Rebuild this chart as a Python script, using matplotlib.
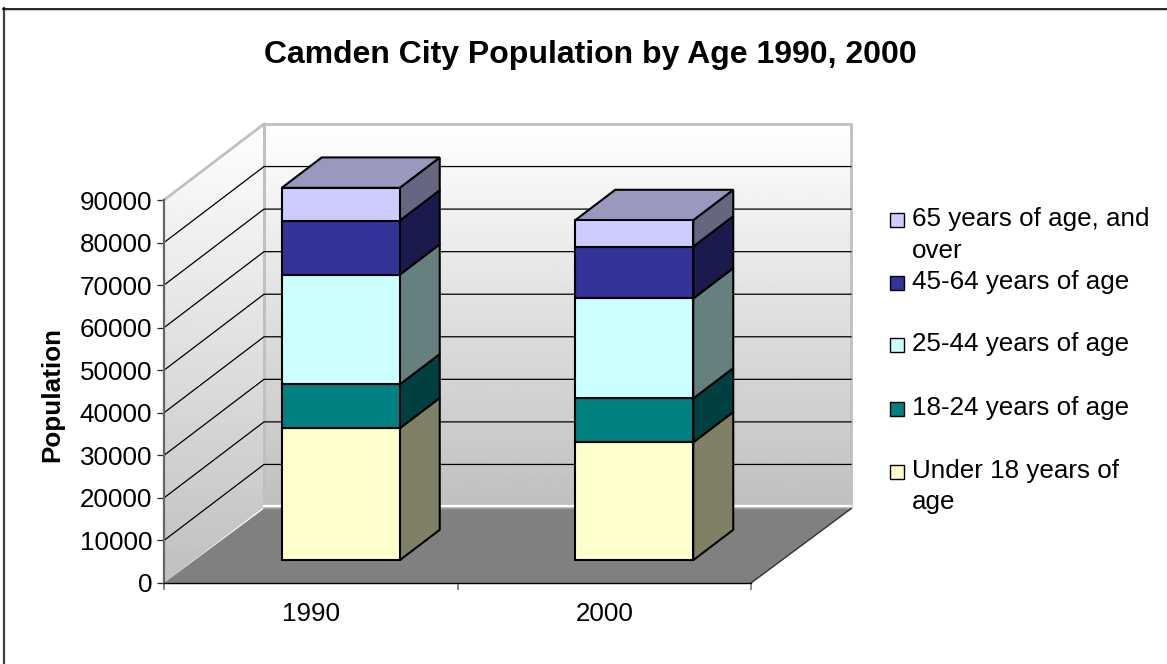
import numpy as np
import matplotlib
matplotlib.use('Agg')
import matplotlib.pyplot as plt
from matplotlib.patches import Polygon, Rectangle

years = ['1990', '2000']
series = ['Under 18 years of age', '18-24 years of age', '25-44 years of age',
          '45-64 years of age', '65 years of age, and over']
under18 = [31000, 27700]
age18_24 = [10300, 10300]
age25_44 = [25800, 23500]
age45_64 = [12700, 12200]
age65 = [7700, 6200]
colors = ['#FFFFCC', '#008080', '#CCFFFF', '#333399', '#CCCCFF']
side_colors = ['#808066', '#004040', '#668080', '#1A1A4D', '#666680']
top_color = '#9999BF'
yticks = list(range(0, 90001, 10000))

W, H = 1167, 664
DX = 100 / 293.5   # depth of the 3d box, x units
DY = 17860         # depth of the 3d box, value units
BAR_W = 0.402
D0, D1 = 0.3, 0.7

plt.rcParams['font.family'] = ['Liberation Sans', 'DejaVu Sans']
fig = plt.figure(figsize=(W / 100, H / 100), dpi=100, facecolor='white')

# page overlay in pixels, for frame and legend
bg = fig.add_axes([0, 0, 1, 1], zorder=0)
bg.set_xlim(0, W)
bg.set_ylim(H, 0)
bg.axis('off')
# only the top and left edges of the chart border are in the picture
bg.plot([4, 4], [8, H], color='#404040', lw=1.6)
bg.plot([3, W], [8.5, 8.5], color='black', lw=1.2)
bg.plot([5, W], [9.8, 9.8], color='#C8C8C8', lw=0.7)

ax = fig.add_axes([164 / W, 1 - 583 / H, 587 / W, 383 / H], zorder=1)
ax.patch.set_visible(False)
ax.set_xlim(0, 2)
ax.set_ylim(0, 90000)


def pr(x, v, d=0):
    return (x + d * DX, v + d * DY)


grad = np.linspace(1, 0.75, 256).reshape(-1, 1)
vtop = 90000 + DY
back = Polygon([pr(0, 0, 1), pr(2, 0, 1), pr(2, 90000, 1), pr(0, 90000, 1)],
               fc='none', ec='#C0C0C0', lw=2, clip_on=False, zorder=2.5)
side = Polygon([pr(0, 0), pr(0, 0, 1), pr(0, 90000, 1), pr(0, 90000)],
               fc='none', ec='none', clip_on=False, zorder=2)
ax.add_patch(back)
ax.add_patch(side)
im1 = ax.imshow(grad, cmap='gray', vmin=0, vmax=1, aspect='auto', zorder=1,
                extent=(DX, 2 + DX, DY, vtop))
im1.set_clip_box(fig.bbox)
im1.set_clip_path(back)
im2 = ax.imshow(grad, cmap='gray', vmin=0, vmax=1, aspect='auto', zorder=1,
                extent=(0, DX, 0, vtop))
im2.set_clip_box(fig.bbox)
im2.set_clip_path(side)
ax.set_xlim(0, 2)
ax.set_ylim(0, 90000)
ax.plot([0, DX], [90000, 90000 + DY], color='#C0C0C0', lw=2, clip_on=False, zorder=2.5)
ax.plot([DX, DX], [DY, vtop], color='#C0C0C0', lw=2, clip_on=False, zorder=2.5)

# gridlines on side and back wall
for v in yticks[1:-1]:
    gx = [0, DX, 2 + DX]
    gy = [v, v + DY, v + DY]
    ax.plot(gx, gy, color='black', lw=0.9, clip_on=False, zorder=3)

# floor
ax.add_patch(Polygon([pr(0, 0), pr(2, 0), pr(2, -400, 1), pr(0, -400, 1)], fc='#808080',
                     ec='none', clip_on=False, zorder=4))
ax.plot([DX, 2 + DX], [DY + 250, DY + 250], color='white', lw=1.6, clip_on=False, zorder=3.5)
ax.plot([DX, 2 + DX], [DY - 300, DY - 300], color='#A0A0A0', lw=1, clip_on=False, zorder=4.5)
ax.plot([2, 2 + DX], [0, DY - 400], color='#303030', lw=1, clip_on=False, zorder=4.5)

# stacked 3d bars
stack = [under18, age18_24, age25_44, age45_64, age65]
for i in range(len(years)):
    left = i + 0.5 - BAR_W / 2
    right = left + BAR_W
    base = 0
    for j, vals in enumerate(stack):
        topv = base + vals[i]
        front = [pr(left, base, D0), pr(right, base, D0), pr(right, topv, D0), pr(left, topv, D0)]
        sidef = [pr(right, base, D0), pr(right, base, D1), pr(right, topv, D1), pr(right, topv, D0)]
        ax.add_patch(Polygon(sidef, fc=side_colors[j], ec='black', lw=1.5,
                             joinstyle='miter', clip_on=False, zorder=5))
        ax.add_patch(Polygon(front, fc=colors[j], ec='black', lw=1.5,
                             joinstyle='miter', clip_on=False, zorder=6))
        base = topv
    cap = [pr(left, base, D0), pr(right, base, D0), pr(right, base, D1), pr(left, base, D1)]
    ax.add_patch(Polygon(cap, fc=top_color, ec='black', lw=1.5,
                         joinstyle='miter', clip_on=False, zorder=5))

# axes
for s in ['top', 'right']:
    ax.spines[s].set_visible(False)
ax.spines['left'].set_color('#666666')
ax.spines['left'].set_linewidth(1.6)
ax.spines['bottom'].set_color('black')
ax.spines['bottom'].set_linewidth(1)
ax.spines['left'].set_zorder(8)
ax.spines['bottom'].set_zorder(8)
ax.set_yticks(yticks)
ax.set_yticklabels([str(v) for v in yticks], fontsize=18.7, color='black')
ax.tick_params(axis='y', length=5, width=0.9, color='#222222', pad=3.5)
ax.set_xticks([0, 1, 2])
ax.set_xticklabels([])
ax.set_xticks([0.5, 1.5], minor=True)
ax.set_xticklabels(years, minor=True, fontsize=18.7)
ax.tick_params(axis='x', which='major', length=5, width=1.2, color='#777777')
ax.tick_params(axis='x', which='minor', length=0, pad=14)
bg.text(52, 394, 'Population', fontsize=18.7, fontweight='bold', rotation=90,
        ha='center', va='center')

bg.text(590, 55, 'Camden City Population by Age 1990, 2000', fontsize=23, fontweight='bold',
        ha='center', va='center')

# legend, drawn by hand since wrapped entries share one box
legend_rows = [(219, ['65 years of age, and', 'over'], 4),
               (282, ['45-64 years of age'], 3),
               (344, ['25-44 years of age'], 2),
               (408, ['18-24 years of age'], 1),
               (471, ['Under 18 years of', 'age'], 0)]
for y, lines, idx in legend_rows:
    bg.add_patch(Rectangle((889.5, y - 6.5), 14, 14, fc=colors[idx], ec='black', lw=1))
    for k, line in enumerate(lines):
        bg.text(911.5, y + k * 31.5, line, fontsize=18.7, ha='left', va='center')

fig.savefig('out.png', dpi=100)
